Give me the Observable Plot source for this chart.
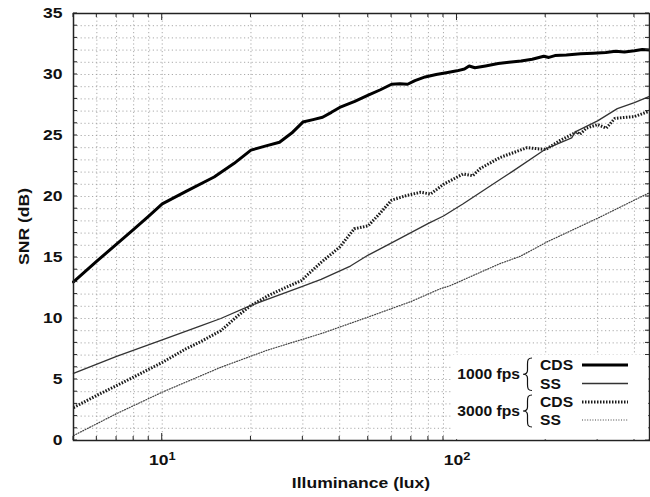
<!DOCTYPE html>
<html><head><meta charset="utf-8">
<script src="https://cdn.jsdelivr.net/npm/d3@7"></script>
<script src="https://cdn.jsdelivr.net/npm/@observablehq/plot@0.6"></script>
<style>
body{margin:0;background:#fff}
#chart svg{font-family:"Liberation Sans",Arial,Helvetica,sans-serif;overflow:visible}
</style>
</head><body><div id="chart"></div>
<script>
// ---- data ----
const luxCds1000 = [5,6,7,8,9,10,12,15,17.5,20,22.5,25,27.5,30,32.5,35,37.5,40,45,50,55,60,64,68,72,78,85,92,100,106,110,115,125,138,150,165,180,197,205,215,235,263,290,320,345,370,400,425,450];
const snrCds1000 = [13.0,14.7,16.1,17.3,18.4,19.4,20.4,21.6,22.7,23.8,24.15,24.45,25.2,26.1,26.3,26.5,26.9,27.3,27.8,28.3,28.75,29.2,29.25,29.2,29.5,29.8,30.0,30.15,30.3,30.45,30.7,30.55,30.7,30.9,31.0,31.1,31.25,31.5,31.4,31.55,31.6,31.7,31.75,31.8,31.9,31.85,31.95,32.05,32.0];

const luxSs1000 = [5,7,10,13.5,15.8,20,29.6,34.6,43.5,50,60,80,90,105,140,153,200,245,252,300,350,400,450];
const snrSs1000 = [5.5,6.9,8.25,9.4,10.0,11.07,12.6,13.2,14.3,15.2,16.2,17.8,18.4,19.4,21.4,22.0,23.9,24.8,25.3,26.2,27.2,27.7,28.2];

const luxCds3000 = [5,6,7,8,10,12,13.5,15.8,18,20,23,26,29.6,34.6,40,44.8,50,54.7,60,67.9,75.3,81.3,90,105,113,120,140,173,200,224,255,261,275,300,321,343,376,400,450];
const snrCds3000 = [2.7,3.7,4.5,5.2,6.4,7.5,8.1,9.0,10.2,11.07,11.9,12.5,13.1,14.6,15.85,17.35,17.6,18.6,19.7,20.1,20.35,20.2,21.0,21.85,21.7,22.3,23.2,24.0,23.85,24.6,25.3,25.1,25.6,25.9,25.6,26.4,26.5,26.55,27.0];

const luxSs3000 = [5,7,10,15.8,22.7,35,49.7,70,87,95,140,164,203,305,440,450];
const snrSs3000 = [0.4,2.2,3.96,6.0,7.4,8.8,10.1,11.4,12.4,12.7,14.5,15.1,16.3,18.3,20.2,20.3];

const yTicks = [0,5,10,15,20,25,30,35];
const yMinor = d3.range(0,36,1);
const xMajor = [10,100];
const xTickLabels = ["1","2"]; // exponents of 10
const xMinor = [5,6,7,8,9,10,20,30,40,50,60,70,80,90,100,200,300,400];

const seriesNames = ["1000 fps CDS","1000 fps SS","3000 fps CDS","3000 fps SS"];
const legendGroups = ["1000 fps","3000 fps"];
const legendItems = ["CDS","SS"];

function rows(name, xs, ys){ return xs.map((x,i)=>({series:name, lux:x, snr:ys[i]})); }
const dCds1000 = rows(seriesNames[0], luxCds1000, snrCds1000);
const dSs1000  = rows(seriesNames[1], luxSs1000, snrSs1000);
const dCds3000 = rows(seriesNames[2], luxCds3000, snrCds3000);
const dSs3000  = rows(seriesNames[3], luxSs3000, snrSs3000);

const styles = [
  {stroke:"#000", strokeWidth:3, strokeDasharray:null},
  {stroke:"#333", strokeWidth:1.3, strokeDasharray:null},
  {stroke:"#1a1a1a", strokeWidth:3, strokeDasharray:"1.5,1.5"},
  {stroke:"#444", strokeWidth:1.2, strokeDasharray:"1,1.6"}
];

const gridStyle = {stroke:"#a0a0a0", strokeOpacity:1, strokeWidth:0.9, strokeDasharray:"1.2,2.6"};
const SX = 1.17; // horizontal stretch of the reference lettering

const plot = Plot.plot({
  width: 650, height: 497,
  marginLeft: 73, marginRight: 1, marginTop: 13, marginBottom: 57,
  x: {type:"log", domain:[5,450]},
  y: {domain:[0,35]},
  marks: [
    Plot.gridX(xMinor.filter(d=>d>5), gridStyle),
    Plot.gridY(yMinor.filter(d=>d>0 && d<35), gridStyle),
    Plot.axisY(yTicks, {tickSize:0, tickPadding:11, fontSize:15, fontWeight:"bold", label:null, fill:"#111"}),
    Plot.axisX(xMajor, {tickSize:0, tickPadding:14, fontSize:15, fontWeight:"bold", label:null, fill:"#111",
      tickFormat: d => "10" + xTickLabels[xMajor.indexOf(d)]}),
    Plot.line(dSs3000, {x:"lux", y:"snr", ...styles[3]}),
    Plot.line(dCds3000, {x:"lux", y:"snr", ...styles[2], strokeLinecap:"butt"}),
    Plot.line(dSs1000, {x:"lux", y:"snr", ...styles[1]}),
    Plot.line(dCds1000, {x:"lux", y:"snr", ...styles[0], strokeLinejoin:"round"}),
    Plot.frame({stroke:"#222", strokeWidth:1.5})
  ]
});
document.getElementById("chart").appendChild(plot);

const svg = d3.select(plot);
const sx = plot.scale("x"), sy = plot.scale("y");
const X0 = sx.apply(5), X1 = sx.apply(450), Y0 = sy.apply(0), Y1 = sy.apply(35);

function stretch(sel){
  sel.each(function(){
    const t = d3.select(this);
    const tr = t.attr("transform") || "";
    t.attr("transform", `${tr} scale(${SX},1)`);
  });
}

// superscript exponents on x tick labels
svg.selectAll('g[aria-label="x-axis tick label"] text').each(function(){
  const t = d3.select(this); const s = t.text();
  t.text("10");
  t.append("tspan").attr("dy","-0.45em").attr("font-size","11px").text(s.slice(2));
});
stretch(svg.selectAll('g[aria-label="x-axis tick label"] text'));
stretch(svg.selectAll('g[aria-label="y-axis tick label"] text'));

// inward ticks on all four sides
const tk = svg.append("g").attr("stroke","#222").attr("stroke-width",1);
yMinor.forEach(v=>{
  const y = sy.apply(v), L = 4;
  tk.append("line").attr("x1",X0).attr("x2",X0+L).attr("y1",y).attr("y2",y);
  tk.append("line").attr("x1",X1).attr("x2",X1-L).attr("y1",y).attr("y2",y);
});
xMinor.forEach(v=>{
  const x = sx.apply(v), L = xMajor.includes(v) ? 7 : 4;
  tk.append("line").attr("x1",x).attr("x2",x).attr("y1",Y0).attr("y2",Y0-L);
  tk.append("line").attr("x1",x).attr("x2",x).attr("y1",Y1).attr("y2",Y1+L);
});

// axis titles
svg.append("text").attr("transform",`translate(${(X0+X1)/2},488) scale(${SX},1)`).attr("text-anchor","middle")
  .attr("font-size",15).attr("font-weight","bold").attr("fill","#111").text("Illuminance (lux)");
svg.append("text").attr("transform",`translate(29,${(Y0+Y1)/2}) rotate(-90) scale(${SX},1)`).attr("text-anchor","middle")
  .attr("font-size",15).attr("font-weight","bold").attr("fill","#111").text("SNR (dB)");

// legend
const lg = svg.append("g");
lg.append("rect").attr("x",453).attr("y",355).attr("width",X1-453-0.8).attr("height",Y0-355-0.8).attr("fill","#fff");
const groupY = [[365,383.5],[402,420]];
legendGroups.forEach((g,gi)=>{
  const [ya,yb] = groupY[gi], ym = (ya+yb)/2;
  lg.append("text").attr("transform",`translate(520,${ym}) scale(1.12,1)`).attr("dy","0.36em").attr("text-anchor","end")
    .attr("font-size",14).attr("font-weight","bold").attr("fill","#111").text(g);
  const bx = 523, top = ya-7, bot = yb+7;
  lg.append("path").attr("fill","none").attr("stroke","#111").attr("stroke-width",1.2)
    .attr("d",`M${bx+9},${top} C${bx+5},${top} ${bx+4.5},${top+2} ${bx+4.5},${top+6} L${bx+4.5},${ym-4} C${bx+4.5},${ym-1} ${bx+2},${ym} ${bx},${ym} C${bx+2},${ym} ${bx+4.5},${ym+1} ${bx+4.5},${ym+4} L${bx+4.5},${bot-6} C${bx+4.5},${bot-2} ${bx+5},${bot} ${bx+9},${bot}`);
  [ya,yb].forEach((y,k)=>{
    lg.append("text").attr("transform",`translate(540,${y}) scale(1.12,1)`).attr("dy","0.36em").attr("text-anchor","start")
      .attr("font-size",14).attr("font-weight","bold").attr("fill","#111").text(legendItems[k]);
    const st = styles[gi*2+k];
    lg.append("line").attr("x1",582).attr("x2",628).attr("y1",y).attr("y2",y)
      .attr("stroke",st.stroke).attr("stroke-width",st.strokeWidth)
      .attr("stroke-dasharray",st.strokeDasharray);
  });
});
</script>
</body></html>
